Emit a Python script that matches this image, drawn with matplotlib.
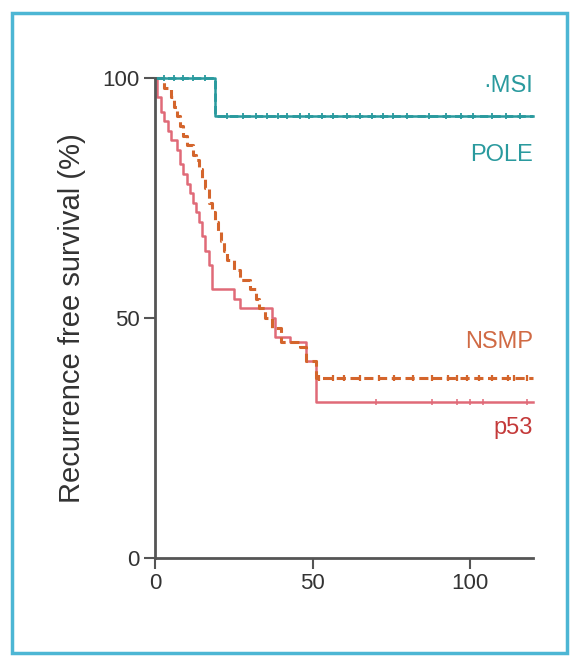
import numpy as np
import matplotlib.pyplot as plt
from matplotlib.patches import Rectangle

plt.rcParams['font.family'] = ['Liberation Sans', 'DejaVu Sans']

# Kaplan-Meier step data (time in months, survival in %)
pole_t = [0, 19]
pole_s = [100, 92]
pole_cens_t = [3, 6, 9, 12, 16]
pole_cens_s = [100, 100, 100, 100, 100]

msi_t = [0, 19]
msi_s = [100, 92]
msi_cens_t = [23, 28, 32, 35.5, 39, 42, 46, 49, 53, 56.5, 61, 65, 69, 72.5, 75.5, 80, 87, 92.5, 97, 101, 107, 111.5, 116]

nsmp_t = [0, 3, 5, 6, 7, 8, 9, 10, 12, 13, 14, 15, 16, 17, 18, 19, 20, 21, 22, 23, 25, 27, 30, 32, 33, 35, 37, 40, 46, 48, 51]
nsmp_s = [100, 98, 96, 94, 92, 90, 88, 86, 84, 83, 81, 79, 77, 74, 72, 70, 68, 66, 64, 62, 60, 58, 56, 54, 52, 50, 48, 45, 44, 41, 37.5]
nsmp_cens_t = [52, 56.5, 60, 65, 71, 76, 82, 88, 93, 96, 99, 103, 107, 112, 114, 118]

p53_t = [0, 0.5, 2, 3, 4, 5, 7, 8, 9, 10, 11, 12, 13, 14, 15, 16, 17, 18, 25, 27, 37, 38, 43, 48, 51]
p53_s = [100, 96, 93, 91, 89, 87, 85, 82, 80, 78, 76, 74, 72, 70, 67, 64, 61, 56, 54, 52, 50, 46, 45, 41, 32.5]
p53_cens_t = [70, 88, 96, 100, 104, 118]

t_end = 120

teal = '#2a9a9e'
orange = '#d4652c'
pink = '#e06a78'


def km_step(t, s, t_end):
    tt = list(t) + [t_end]
    ss = list(s) + [s[-1]]
    return tt, ss


def level_at(t, s, x):
    idx = np.searchsorted(t, x, side='right') - 1
    return np.array(s)[idx]


fig = plt.figure(figsize=(5.71, 6.57), dpi=100)
fig.patches.append(Rectangle((12 / 571, 4 / 657), 555 / 571, 640 / 657, transform=fig.transFigure,
                             fill=False, edgecolor='#4db6d4', linewidth=2.5))

ax = fig.add_axes([155 / 571, 99 / 657, 378 / 571, 480 / 657])

for t, s, color, ls, lw in [(p53_t, p53_s, pink, '-', 1.8),
                            (nsmp_t, nsmp_s, orange, (0, (3, 1.5)), 2.2),
                            (pole_t, pole_s, teal, '-', 1.8),
                            (msi_t, msi_s, teal, (0, (3, 1.5)), 2.0)]:
    tt, ss = km_step(t, s, t_end)
    ax.step(tt, ss, where='post', color=color, linestyle=ls, linewidth=lw, clip_on=False)

# censor marks
ax.plot(pole_cens_t, pole_cens_s, linestyle='none', marker='|', color=teal, markersize=5, mew=1.3, clip_on=False)
ax.plot(msi_cens_t, level_at(msi_t, msi_s, msi_cens_t), linestyle='none', marker='|', color=teal,
        markersize=5, mew=1.3, clip_on=False)
ax.plot(nsmp_cens_t, level_at(nsmp_t, nsmp_s, nsmp_cens_t), linestyle='none', marker='|', color=orange,
        markersize=5, mew=1.6, clip_on=False)
ax.plot(p53_cens_t, level_at(p53_t, p53_s, p53_cens_t), linestyle='none', marker='|', color=pink,
        markersize=5, mew=1.1, clip_on=False)

ax.set_xlim(0, 120)
ax.set_ylim(0, 100)
ax.set_xticks([0, 50, 100])
ax.set_yticks([0, 50, 100])
for side in ['top', 'right']:
    ax.spines[side].set_visible(False)
for side in ['left', 'bottom']:
    ax.spines[side].set_color('#555555')
    ax.spines[side].set_linewidth(2)
ax.tick_params(axis='both', direction='out', length=8, width=1.5, color='#555555',
               labelsize=16, labelcolor='#333333', pad=3)

ax.set_ylabel('Recurrence free survival (%)', fontsize=21, color='#333333', labelpad=12)

ax.text(120, 96, '\u00b7MSI', color=teal, fontsize=17, ha='right', va='bottom')
ax.text(120, 84, 'POLE', color=teal, fontsize=17, ha='right', va='center')
ax.text(120, 45, 'NSMP', color='#d06a44', fontsize=17, ha='right', va='center')
ax.text(120, 27, 'p53', color='#c43a3a', fontsize=17, ha='right', va='center')

fig.savefig('out.png', dpi=100)
